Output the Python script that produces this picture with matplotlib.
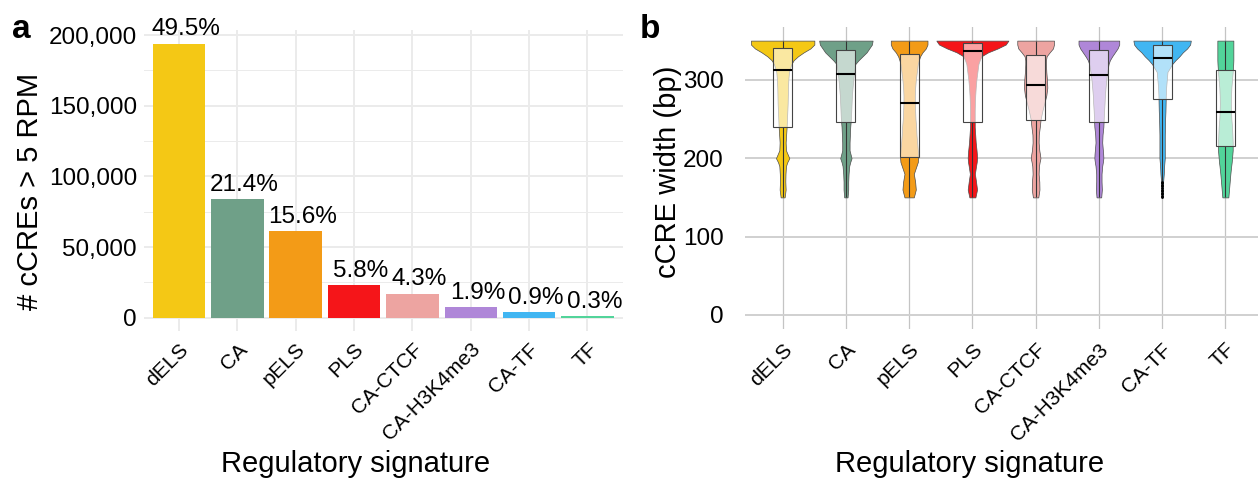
import numpy as np
import matplotlib
matplotlib.use('Agg')
import matplotlib.pyplot as plt
from matplotlib.patches import Rectangle
from matplotlib.ticker import FuncFormatter, FixedLocator

plt.rcParams['font.family'] = ['Liberation Sans', 'DejaVu Sans']

signatures = ['dELS', 'CA', 'pELS', 'PLS', 'CA-CTCF', 'CA-H3K4me3', 'CA-TF', 'TF']
colors = ['#F4C815', '#6FA088', '#F39B17', '#F51519',
          '#EDA4A1', '#AF87D8', '#41B6F2', '#52D49A']

# cCREs above 5 RPM per signature and the total they are a share of
ccre_counts = [193800, 83700, 61100, 22900, 17000, 7500, 3700, 1300]
ccre_total = 391500

# cCRE width (bp): density profiles on a shared grid
width_grid = [150, 160, 170, 180, 190, 195, 200, 205, 210, 220, 230, 240, 250,
              260, 270, 280, 290, 300, 310, 320, 325, 330, 335, 340, 345, 350]
dens_dels = [6, 9, 8, 8.5, 10, 14, 20, 15, 10, 9, 10.5, 12, 13,
             14, 15, 15.5, 16, 17, 19, 26, 33, 46, 63, 83, 95, 95]
dens_ca = [5, 7, 7, 8, 10, 13, 17, 14, 11, 11, 12, 13, 15,
           16, 17, 18, 20, 22, 25, 28, 38, 50, 62, 70, 78, 80]
dens_pels = [14, 20, 18, 14, 22, 26, 27, 27, 26, 24, 22, 21, 19,
             18, 17, 17, 18, 20, 23, 26, 29, 33, 40, 50, 55, 55]
dens_pls = [9, 14, 11, 7.5, 11, 13, 14, 13.5, 12.5, 10, 8.5, 7, 7,
            7, 7.5, 8.5, 10, 12, 15, 18, 22, 27, 47, 76, 100, 108]
dens_ca_ctcf = [8, 11.5, 11, 9, 10, 12, 14.5, 13, 11, 9, 9.5, 12.5, 15,
                20, 26, 32, 35, 34, 32, 31, 31, 33, 42, 52, 55, 55]
dens_ca_h3k4me3 = [7, 9, 8, 8, 10, 12, 13.5, 13, 12, 10, 11, 13.5, 14.5,
                   15.5, 17, 18, 20, 22, 25, 29, 33, 40, 48, 56, 61, 61]
dens_ca_tf = [1.5, 2.5, 3, 5, 6, 7, 8, 8, 8, 8, 8, 8.5, 9,
              10, 10.5, 11, 12, 14, 16, 30, 40, 52, 62, 75, 84, 86]
dens_tf = [9, 11, 13, 15, 17.5, 19, 20, 21, 22, 22, 21, 20, 18,
           17, 16.5, 17, 18, 20, 22, 23.5, 24, 24, 24, 24, 24, 24]

# box plot statistics (bp)
box_q1 = [240, 246, 202, 246, 249, 246, 275, 216]
box_med = [312, 307, 270, 337, 293, 306, 328, 259]
box_q3 = [341, 338, 333, 347, 332, 338, 344, 313]
whisk_lo = [150, 150, 150, 150, 150, 150, 171, 150]
whisk_hi = [350, 350, 350, 350, 350, 350, 350, 350]
ca_tf_outliers = [150, 152, 154, 156, 158, 160, 162, 164, 166, 168, 170]

W, H = 1258, 479
fig = plt.figure(figsize=(W / 100, H / 100), dpi=100)


def px_axes(l, t, r, b):
    return fig.add_axes([l / W, 1 - b / H, (r - l) / W, (b - t) / H])


TICK = 17.5
XTICK = 15
TITLE = 21
x = np.arange(len(signatures))

# ---- a: bar chart of counts ----
ax = px_axes(144, 30.1, 622.5, 331.4)
ax.set_axisbelow(True)
ax.bar(x, ccre_counts, width=0.9, color=colors, zorder=2)
for i, c in enumerate(ccre_counts):
    ax.annotate(f'{100 * c / ccre_total:.1f}%', (i, c), xytext=(5, 6),
                textcoords='offset points', ha='center', va='baseline',
                fontsize=TICK, zorder=3)
ymax = max(ccre_counts)
ax.set_ylim(-0.05 * ymax, 1.05 * ymax)
ax.set_xlim(-0.6, len(x) - 0.4)
ax.yaxis.set_major_locator(FixedLocator([0, 50000, 100000, 150000, 200000]))
ax.yaxis.set_minor_locator(FixedLocator([25000, 75000, 125000, 175000]))
ax.yaxis.set_major_formatter(FuncFormatter(lambda v, p: f'{v:,.0f}'))
ax.grid(True, which='major', color='#EBEBEB', lw=1.4)
ax.grid(True, which='minor', axis='y', color='#EBEBEB', lw=0.7)

# ---- b: violins with boxes ----
bx = px_axes(744.7, 26.9, 1263.3, 328.7)
bx.set_axisbelow(True)
grid_y = np.array(width_grid)
dens_all = [dens_dels, dens_ca, dens_pels, dens_pls,
            dens_ca_ctcf, dens_ca_h3k4me3, dens_ca_tf, dens_tf]
scale = 0.57 / max(max(d) for d in dens_all)
for i, d in enumerate(dens_all):
    hw = np.array(d) * scale
    bx.fill_betweenx(grid_y, i - hw, i + hw, facecolor=colors[i],
                     edgecolor='#4D4D4D', lw=0.5, zorder=2)
    bx.vlines(i, box_q3[i], whisk_hi[i], color='#333333', lw=0.8, zorder=3)
    bx.vlines(i, whisk_lo[i], box_q1[i], color='#333333', lw=0.8, zorder=3)
    bx.add_patch(Rectangle((i - 0.15, box_q1[i]), 0.3, box_q3[i] - box_q1[i],
                           facecolor=(1, 1, 1, 0.6), edgecolor='#444444',
                           lw=0.8, zorder=4))
    bx.hlines(box_med[i], i - 0.15, i + 0.15, color='black', lw=1.5, zorder=5)
bx.plot([6] * len(ca_tf_outliers), ca_tf_outliers, 'o', color='black',
        ms=2, mew=0, zorder=5)
bx.set_ylim(-17.5, 367.5)
bx.set_xlim(-0.6, len(x) - 0.4)
bx.set_yticks([0, 100, 200, 300])
bx.grid(True, axis='y', color='#D0D0D0', lw=1.4)
bx.grid(True, axis='x', color='#C4C4C4', lw=0.9)

for a in (ax, bx):
    a.set_xticks(x)
    a.set_xticklabels(signatures, rotation=45, ha='right', va='top',
                      rotation_mode='anchor')
    a.tick_params(which='both', length=0, labelsize=TICK, labelcolor='black')
    a.tick_params(axis='x', labelsize=XTICK)
    for s in a.spines.values():
        s.set_visible(False)
ax.tick_params(axis='y', pad=5)
ax.tick_params(axis='x', pad=6)
bx.tick_params(axis='y', pad=15)
bx.tick_params(axis='x', pad=8)

# titles and panel letters
fig.text(30 / W, 1 - 191 / H, '# cCREs > 5 RPM', rotation=90,
         ha='center', va='center', fontsize=TITLE)
fig.text(668 / W, 1 - 172 / H, 'cCRE width (bp)', rotation=90,
         ha='center', va='center', fontsize=TITLE)
fig.text(356 / W, 1 - 472 / H, 'Regulatory signature', ha='center',
         va='baseline', fontsize=TITLE)
fig.text(970 / W, 1 - 472 / H, 'Regulatory signature', ha='center',
         va='baseline', fontsize=TITLE)
fig.text(12 / W, 1 - 38 / H, 'a', fontsize=24, fontweight='bold', va='baseline')
fig.text(640 / W, 1 - 38 / H, 'b', fontsize=24, fontweight='bold', va='baseline')

fig.savefig('out.png', dpi=100)
